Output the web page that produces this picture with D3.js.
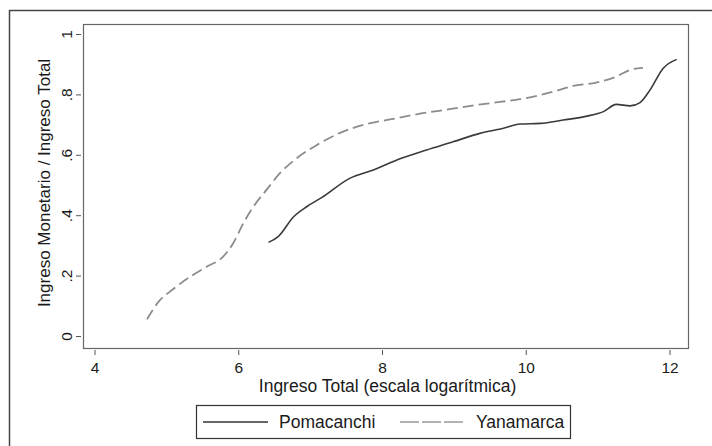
<!DOCTYPE html>
<html>
<head>
<meta charset="utf-8">
<script src="https://cdn.jsdelivr.net/npm/d3@7"></script>
<style>
  body { margin: 0; background: #fff; }
  svg { display: block; font-family: "Liberation Sans", Arial, sans-serif; }
  .axis text { fill: #1a1a1a; font-size: 15.5px; }
  .axis line { stroke: #555; }
</style>
</head>
<body>
<svg id="chart"></svg>
<script>
// Ingreso total (log) vs participacion del ingreso monetario
var yanamarcaX = [4.73, 4.91, 5.05, 5.33, 5.56, 5.79, 5.93, 6.07, 6.21, 6.39, 6.58, 6.81, 7.09, 7.46, 7.79, 8.11, 8.48, 8.94, 9.32, 9.64, 9.92, 10.2, 10.38, 10.66, 10.98, 11.26, 11.45, 11.63];
var yanamarcaY = [.055, .119, .147, .196, .229, .263, .307, .373, .428, .483, .539, .588, .632, .677, .702, .717, .734, .751, .765, .775, .784, .798, .809, .828, .839, .859, .881, .888];

var pomacanchiX = [6.42, 6.56, 6.77, 6.95, 7.16, 7.55, 7.88, 8.26, 8.62, 8.99, 9.36, 9.69, 9.92, 10.2, 10.52, 10.85, 11.08, 11.26, 11.45, 11.59, 11.73, 11.91, 12.10];
var pomacanchiY = [.310, .330, .395, .428, .458, .522, .550, .588, .616, .643, .671, .688, .702, .704, .715, .728, .743, .767, .762, .773, .815, .886, .916];

var xTicks = [4, 6, 8, 10, 12];
var yTicks = [0, .2, .4, .6, .8, 1];
var yTickLabels = ["0", ".2", ".4", ".6", ".8", "1"];
var seriesNames = ["Pomacanchi", "Yanamarca"];

var width = 712, height = 446,
    box = {left: 83, top: 24, right: 688, bottom: 348};

var svg = d3.select("#chart").attr("width", width).attr("height", height);

// outer frame (right and bottom edges fall outside the crop)
svg.append("path")
  .attr("d", "M9.5," + height + "V10.5H" + width)
  .attr("fill", "none").attr("stroke", "#444").attr("stroke-width", 1.5);

var x = d3.scaleLinear().domain([4, 12]).range([94.5, 669.5]);
var y = d3.scaleLinear().domain([0, 1]).range([336, 34]);

// plot region
svg.append("rect")
  .attr("x", box.left + 0.5).attr("y", box.top + 0.5)
  .attr("width", box.right - box.left).attr("height", box.bottom - box.top)
  .attr("fill", "#fff").attr("stroke", "#666").attr("stroke-width", 1.2);

var xAxis = svg.append("g")
  .attr("class", "axis")
  .attr("transform", "translate(0," + (box.bottom + 2) + ")")
  .call(d3.axisBottom(x).tickValues(xTicks).tickSize(5).tickSizeOuter(0).tickPadding(7).tickFormat(d3.format("d")));
xAxis.select(".domain").remove();

var yAxis = svg.append("g")
  .attr("class", "axis")
  .attr("transform", "translate(" + (box.left - 2) + ",0)")
  .call(d3.axisLeft(y).tickValues(yTicks).tickSize(5).tickSizeOuter(0).tickFormat(function(d, i) { return yTickLabels[i]; }));
yAxis.select(".domain").remove();
yAxis.selectAll("text")
  .attr("x", null).attr("dy", null)
  .attr("text-anchor", "middle")
  .attr("transform", "translate(-9,0) rotate(-90)");

// axis titles
svg.append("text")
  .attr("x", (box.left + box.right) / 2 + 2).attr("y", 392)
  .attr("text-anchor", "middle")
  .style("font-size", "17.5px").style("fill", "#1a1a1a")
  .text("Ingreso Total (escala logarítmica)");

svg.append("text")
  .attr("transform", "translate(50," + ((box.top + box.bottom) / 2 - 3) + ") rotate(-90)")
  .attr("text-anchor", "middle")
  .style("font-size", "17px").style("fill", "#1a1a1a")
  .text("Ingreso Monetario / Ingreso Total");

var line = d3.line()
  .x(function(d) { return x(d[0]); })
  .y(function(d) { return y(d[1]); })
  .curve(d3.curveMonotoneX);

var yanamarca = d3.zip(yanamarcaX, yanamarcaY);
var pomacanchi = d3.zip(pomacanchiX, pomacanchiY);

svg.append("path")
  .datum(yanamarca)
  .attr("d", line)
  .attr("fill", "none").attr("stroke", "#8c8c8c")
  .attr("stroke-width", 1.8).attr("stroke-dasharray", "11,5");

svg.append("path")
  .datum(pomacanchi)
  .attr("d", line)
  .attr("fill", "none").attr("stroke", "#3a3a3a")
  .attr("stroke-width", 1.6);

// legend
var legend = svg.append("g").attr("transform", "translate(196,405)");
legend.append("rect")
  .attr("x", 0.5).attr("y", 0.5).attr("width", 374).attr("height", 33)
  .attr("fill", "#fff").attr("stroke", "#333").attr("stroke-width", 1.2);

var items = legend.selectAll(".item")
  .data(seriesNames)
  .enter().append("g")
  .attr("class", "item")
  .attr("transform", function(d, i) { return "translate(" + (7 + i * 197) + ",17)"; });

items.append("line")
  .attr("x1", 0).attr("x2", 65)
  .attr("stroke", function(d, i) { return i ? "#9a9a9a" : "#333"; })
  .attr("stroke-width", 1.6)
  .attr("stroke-dasharray", function(d, i) { return i ? "19,3" : null; });

items.append("text")
  .attr("x", 76).attr("y", 6)
  .style("font-size", "17.5px").style("fill", "#1a1a1a")
  .text(function(d) { return d; });
</script>
</body>
</html>
